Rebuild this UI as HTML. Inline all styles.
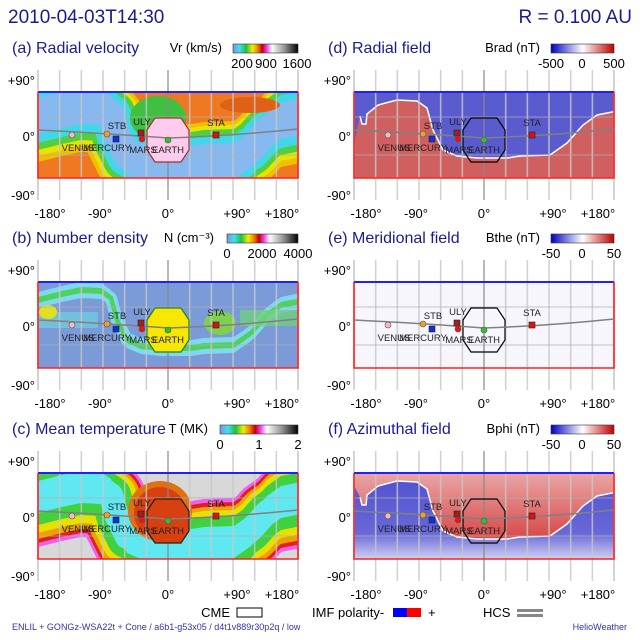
<!DOCTYPE html><html><head><meta charset="utf-8"><style>
body{margin:0;background:#fff}svg{display:block}
text{font-family:"Liberation Sans",sans-serif}
</style></head><body>
<svg id="s" width="640" height="640" viewBox="0 0 640 640" xmlns="http://www.w3.org/2000/svg">
<defs>
<linearGradient id="cbv" x1="0" x2="1"><stop offset="0" stop-color="#8090e0"/><stop offset=".1" stop-color="#40e0f0"/><stop offset=".2" stop-color="#20c040"/><stop offset=".3" stop-color="#f0f000"/><stop offset=".38" stop-color="#f08000"/><stop offset=".45" stop-color="#c00000"/><stop offset=".52" stop-color="#f040f0"/><stop offset=".6" stop-color="#ffffff"/><stop offset=".8" stop-color="#909090"/><stop offset="1" stop-color="#000"/></linearGradient>
<linearGradient id="cbb" x1="0" x2="1"><stop offset="0" stop-color="#0000c0"/><stop offset=".5" stop-color="#ffffff"/><stop offset="1" stop-color="#c00000"/></linearGradient>
<linearGradient id="fb" x1="0" y1="0" x2="0" y2="1"><stop offset="0" stop-color="#5050d0"/><stop offset=".7" stop-color="#6868d8"/><stop offset="1" stop-color="#d0d0f0"/></linearGradient>
<linearGradient id="fr" x1="0" y1="0" x2="0" y2="1"><stop offset="0" stop-color="#eaa8a8"/><stop offset="1" stop-color="#d84848"/></linearGradient>
<clipPath id="cl"><rect x="38" y="92" width="260" height="86"/></clipPath>
</defs>
<text x="8" y="23" font-size="19" fill="#1b1b8f">2010-04-03T14:30</text>
<text x="632" y="23" font-size="19" fill="#1b1b8f" text-anchor="end">R = 0.100 AU</text>
<g id="p"></g>
<text x="230" y="617" font-size="13" text-anchor="end">CME</text>
<rect x="237" y="608" width="25" height="9" fill="#fff" stroke="#000"/>
<text x="312" y="617" font-size="13">IMF polarity-</text>
<rect x="393" y="608" width="14" height="9" fill="#0000ff"/><rect x="407" y="608" width="14" height="9" fill="#ff0000"/>
<text x="428" y="617" font-size="13">+</text>
<text x="483" y="617" font-size="13">HCS</text>
<rect x="517" y="609" width="26" height="3" fill="#888"/><rect x="517" y="614" width="26" height="3" fill="#888"/>
<text x="12" y="630" font-size="9" fill="#3333aa">ENLIL + GONGz-WSA22t + Cone / a6b1-g53x05 / d4t1v889r30p2q / low</text>
<text x="627" y="630" font-size="9" fill="#3333aa" text-anchor="end">HelioWeather</text>
</svg>
<script>
const pts=[[30,112],[44,116],[46,124],[50,124],[51,114],[62,105],[81,100],[101,101],[111,108],[117,130],[127,150],[141,156],[161,158],[191,158],[204,156],[234,155],[251,143],[267,125],[281,115],[306,110]];
const H="M"+pts.slice(1).map(p=>p.join(",")).join(" L");
const A=H+" L306,180 L30,180 Z", B=H+" L306,90 L30,90 Z";
const sp=[[30,112],[62,104],[81,100],[101,101],[111,108],[117,130],[127,150],[141,156],[161,158],[191,158],[204,156],[234,155],[251,143],[267,125],[281,115],[306,110]];
const S="M"+sp.map(p=>p.join(",")).join(" L");
function band(c,u,d){const top=sp.map(p=>p[0]+","+(p[1]-u));const bot=sp.slice().reverse().map(p=>p[0]+","+(p[1]+d));return `<polygon points="${top.concat(bot).join(" ")}" fill="${c}"/><path d="${S}" transform="translate(0,${(d-u)/2})" fill="none" stroke="${c}" stroke-width="${(u+d)*0.75}" stroke-linejoin="round"/>`;}
const oct="147,130 155,118 181,118 189,130 189,150 181,162 155,162 147,150";
const P=[
 {x:0,y:0,t:"(a) Radial velocity",u:"Vr (km/s)",ur:222,b0:233,tx:[242,266,297],cb:"cbv",tk:["200","900","1600"],
  bg:`<rect x="38" y="92" width="260" height="86" fill="#f07820"/>`+band("#f0c000",34,52)+band("#e8e400",30,46)+band("#50d040",26,40)+band("#40d8e8",20,33)+band("#88b8f0",12,24)+`<ellipse cx="158" cy="118" rx="28" ry="22" fill="#40c040"/><ellipse cx="250" cy="105" rx="30" ry="8" fill="#e06018"/>`,
  cme:"#ffccee",cs:"#a03030"},
 {x:0,y:190,t:"(b) Number density",u:"N (cm⁻³)",ur:214,b0:227,tx:[227,262,298],cb:"cbv",tk:["0","2000","4000"],
  bg:`<rect x="38" y="92" width="260" height="86" fill="#7a9ad8"/>`+band("#80d8f0",8,8)+band("#50d060",3,3)+`<rect x="38" y="122" width="60" height="16" fill="#70c8e0" opacity=".8"/><rect x="240" y="120" width="58" height="16" fill="#70d080" opacity=".8"/><ellipse cx="220" cy="133" rx="16" ry="12" fill="#80d050"/><ellipse cx="48" cy="122" rx="9" ry="7" fill="#e0e020"/>`,
  cme:"#f8e800",cs:"#208020"},
 {x:0,y:381,t:"(c) Mean temperature",u:"T (MK)",ur:208,b0:220,tx:[220,259,298],cb:"cbv",tk:["0","1","2"],
  bg:`<rect x="38" y="92" width="260" height="86" fill="#d8d8d8"/>`+band("#f060f0",38,56)+band("#e02020",34,52)+band("#f0a000",30,48)+band("#e8e000",26,42)+band("#40d040",20,34)+band("#60e8f0",10,22)+`<ellipse cx="160" cy="130" rx="32" ry="30" fill="#e07010"/><ellipse cx="160" cy="132" rx="26" ry="26" fill="#d84010"/>`,
  cme:"#d84010",cs:"#202020"},
 {x:316,y:0,t:"(d) Radial field",u:"Brad (nT)",ur:224,b0:235,tx:[235,266,298],cb:"cbb",tk:["-500","0","500"],
  bg:`<rect x="38" y="92" width="260" height="86" fill="#5b5bd0"/><path d="${A}" fill="#d06060"/><path d="${H}" fill="none" stroke="#fff" stroke-width="1.5"/>`,cme:"none",cs:"#000"},
 {x:316,y:190,t:"(e) Meridional field",u:"Bthe (nT)",ur:224,b0:235,tx:[235,266,298],cb:"cbb",tk:["-50","0","50"],
  bg:`<rect x="38" y="92" width="260" height="86" fill="#f6f6fc"/>`,cme:"none",cs:"#000"},
 {x:316,y:381,t:"(f) Azimuthal field",u:"Bphi (nT)",ur:224,b0:235,tx:[235,266,298],cb:"cbb",tk:["-50","0","50"],
  bg:`<rect x="38" y="92" width="260" height="86" fill="url(#fb)"/><path d="${B}" fill="url(#fr)"/><path d="${H}" fill="none" stroke="#fff" stroke-width="1.5"/>`,cme:"none",cs:"#000"}
];
let out="";
for(const p of P){
 let g=`<g transform="translate(${p.x},${p.y})">`;
 g+=`<text x="12" y="53" font-size="16" fill="#1b1b8f">${p.t}</text>`;
 g+=`<text x="${p.ur}" y="52" font-size="13" text-anchor="end">${p.u}</text>`;
 g+=`<rect x="${p.b0}" y="44" width="${298-p.b0}" height="9" fill="url(#${p.cb})" stroke="#333" stroke-width=".6"/>`;
 p.tk.forEach((s,i)=>g+=`<text x="${p.tx[i]}" y="68" font-size="13" text-anchor="middle">${s}</text>`);
 g+=`<g clip-path="url(#cl)">${p.bg}</g>`;
 for(let k=1;k<12;k++){const x=38+k*21.67;if(k==6)continue;g+=`<line x1="${x}" y1="70" x2="${x}" y2="200" stroke="#c8c8c8" stroke-width="1.6" opacity=".8"/>`;}
 g+=`<line x1="38" y1="70" x2="38" y2="200" stroke="#c8c8c8" stroke-width="1.6"/><line x1="298" y1="70" x2="298" y2="200" stroke="#c8c8c8" stroke-width="1.6"/>`;
 for(const y of [117,155])g+=`<line x1="38" y1="${y}" x2="298" y2="${y}" stroke="#b0b0b0" stroke-width="1" opacity=".7"/>`;
 g+=`<line x1="168" y1="70" x2="168" y2="200" stroke="#888" stroke-width="1.2"/>`;
 g+=`<polyline points="38,92 298,92" stroke="#2020ff" stroke-width="2" fill="none"/><polyline points="38,92 38,178 298,178 298,92" stroke="#ff2020" stroke-width="1.6" fill="none"/>`;
 g+=`<text x="35" y="85" font-size="13" text-anchor="end">+90°</text><text x="35" y="141" font-size="13" text-anchor="end">0°</text><text x="35" y="200" font-size="13" text-anchor="end">-90°</text>`;
 [["-180°",50],["-90°",100],["0°",168],["+90°",237],["+180°",282]].forEach(([s,x])=>g+=`<text x="${x}" y="218" font-size="13" text-anchor="middle">${s}</text>`);
 g+=`<polygon points="${oct}" fill="${p.cme}" stroke="${p.cs}" stroke-width="1.2"/>`;
 g+=`<path d="M38,130 Q100,133 168,138 Q230,136 298,129" fill="none" stroke="#808080" stroke-width="1.5"/>`;
 g+=`<circle cx="72" cy="135" r="3" fill="#f4b8c0" stroke="#555" stroke-width=".6"/><circle cx="107" cy="134" r="3" fill="#f0a020" stroke="#555" stroke-width=".6"/><rect x="113" y="136" width="6" height="6" fill="#1030e0" stroke="#222" stroke-width=".6"/><rect x="138" y="130" width="6" height="6" fill="#a02020" stroke="#222" stroke-width=".6"/><circle cx="142" cy="139" r="3" fill="#f01010" stroke="#555" stroke-width=".6"/><circle cx="168" cy="140" r="3" fill="#30c030" stroke="#555" stroke-width=".6"/><rect x="213" y="132" width="6" height="6" fill="#e01010" stroke="#222" stroke-width=".6"/>`;
 g+=`<g font-size="9.5" fill="#222" text-anchor="middle"><text x="78" y="151">VENUS</text><text x="107" y="151">MERCURY</text><text x="117" y="129">STB</text><text x="142" y="125">ULY</text><text x="143" y="153">MARS</text><text x="168" y="153">EARTH</text><text x="216" y="126">STA</text></g>`;
 g+="</g>";out+=g;
}
document.getElementById("p").innerHTML=out;
</script>
</body></html>
